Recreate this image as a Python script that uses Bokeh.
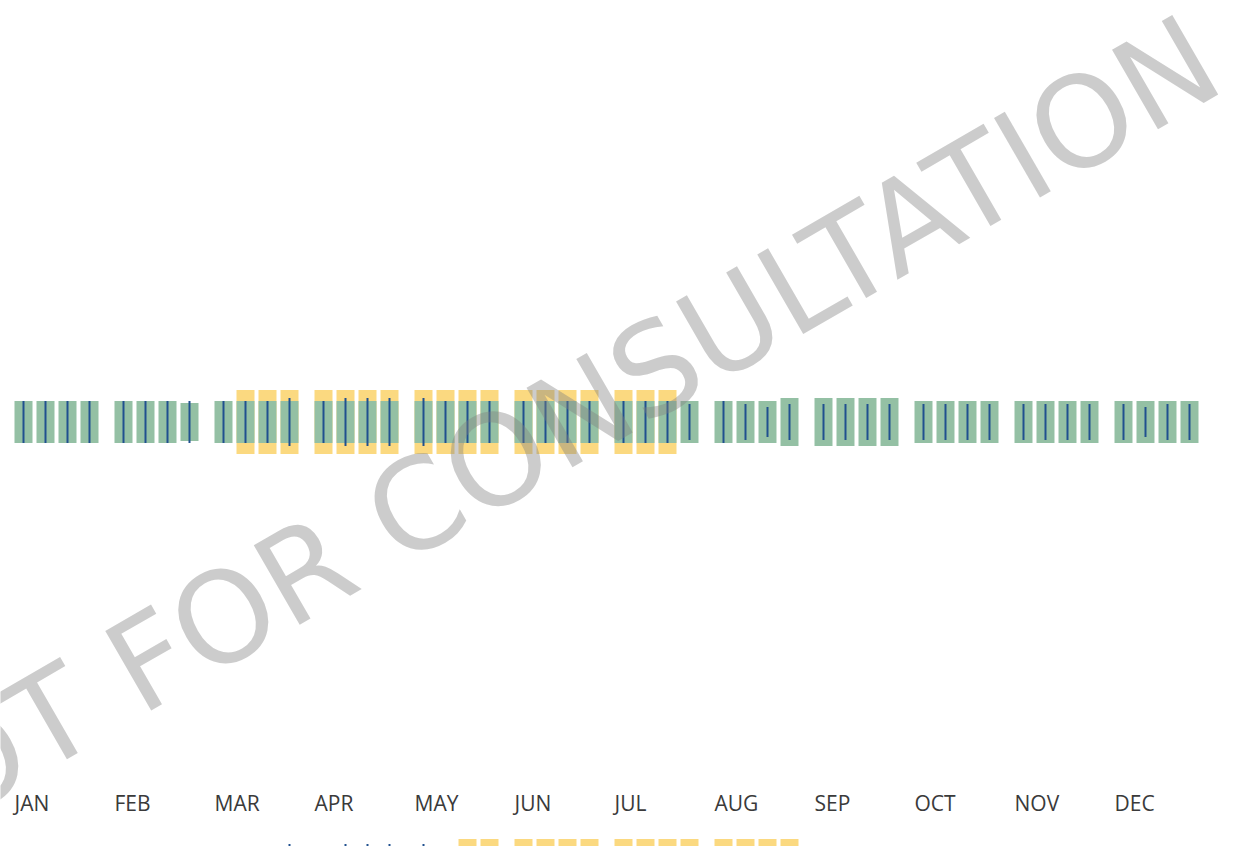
import math
from bokeh.plotting import figure
from bokeh.models import Range1d, Label
from bokeh.core.properties import value
from bokeh.embed import file_html
from bokeh.resources import INLINE

months = ["JAN", "FEB", "MAR", "APR", "MAY", "JUN", "JUL", "AUG", "SEP", "OCT", "NOV", "DEC"]
weeks = ["1", "2", "3", "4"]

# Row 1: weekly heights
green_1 = [42, 42, 42, 42,  42, 42, 42, 38,  42, 42, 42, 42,  42, 42, 42, 42,
           42, 42, 42, 42,  42, 42, 42, 42,  42, 42, 42, 42,  42, 42, 42, 48,
           48, 48, 48, 48,  42, 42, 42, 42,  42, 42, 42, 42,  42, 42, 42, 42]
yellow_1 = [0, 0, 0, 0,  0, 0, 0, 0,  0, 64, 64, 64,  64, 64, 64, 64,
            64, 64, 64, 64,  64, 64, 64, 64,  64, 64, 64, 0,  0, 0, 0, 0,
            0, 0, 0, 0,  0, 0, 0, 0,  0, 0, 0, 0,  0, 0, 0, 0]
blue_1 = [42, 42, 42, 42,  42, 42, 42, 42,  42, 42, 42, 48,  42, 48, 48, 48,
          48, 42, 42, 42,  42, 42, 42, 42,  42, 42, 42, 36,  42, 36, 30, 36,
          36, 36, 36, 36,  36, 36, 36, 36,  36, 36, 36, 36,  36, 30, 36, 36]

# Row 2 (only its top edge is visible)
yellow_2 = [0, 0, 0, 0,  0, 0, 0, 0,  0, 0, 0, 0,  0, 0, 0, 0,
            0, 0, 64, 64,  64, 64, 64, 64,  64, 64, 64, 64,  64, 64, 64, 64,
            0, 0, 0, 0,  0, 0, 0, 0,  0, 0, 0, 0,  0, 0, 0, 0]
blue_2 = [0, 0, 0, 0,  0, 0, 0, 0,  0, 0, 0, 54,  0, 54, 54, 54,
          54, 0, 0, 0,  0, 0, 0, 0,  0, 0, 0, 0,  0, 0, 0, 0,
          0, 0, 0, 0,  0, 0, 0, 0,  0, 0, 0, 0,  0, 0, 0, 0]

GREEN = "#94c0a4"
YELLOW = "#fbd980"
BLUE = "#20508f"

# week slot coordinate: one unit per week, a gap after each month
MONTH_STEP = 4 + 12 / 22
slots = [mi * MONTH_STEP + wi for mi in range(len(months)) for wi in range(len(weeks))]
month_starts = [mi * MONTH_STEP for mi in range(len(months))]

W, H = 1233, 846
p = figure(width=W, height=H,
           x_range=Range1d(-23 / 22, (W - 23) / 22),
           y_range=Range1d(-424.5, 421.5),
           x_axis_location=None, y_axis_location=None,
           output_backend="svg", toolbar_location=None,
           min_border_left=0, min_border_right=0, min_border_top=0, min_border_bottom=0)
p.outline_line_color = None
p.grid.visible = False
p.background_fill_color = "white"

BW = 18 / 22


def draw_row(center, yellow, green, blue):
    ys = [(s, h) for s, h in zip(slots, yellow) if h > 0]
    if ys:
        p.vbar(x=[s for s, _ in ys], top=[center + h / 2 for _, h in ys],
               bottom=[center - h / 2 for _, h in ys], width=BW,
               fill_color=YELLOW, line_color=None)
    if green is not None:
        gs = [(s, h) for s, h in zip(slots, green) if h > 0]
        p.vbar(x=[s for s, _ in gs], top=[center + h / 2 for _, h in gs],
               bottom=[center - h / 2 for _, h in gs], width=BW,
               fill_color=GREEN, line_color=None)
    bs = [(s, h) for s, h in zip(slots, blue) if h > 0]
    if bs:
        p.segment(x0=[s for s, _ in bs], x1=[s for s, _ in bs],
                  y0=[center - h / 2 for _, h in bs], y1=[center + h / 2 for _, h in bs],
                  line_color=BLUE, line_width=2, line_cap="butt")


draw_row(0, yellow_1, green_1, blue_1)
draw_row(-449, yellow_2, None, blue_2)

p.text(x=[s - BW / 2 for s in month_starts], y=[-381] * len(months), text=months,
       text_align="left", text_baseline="alphabetic",
       text_font=value("Open Sans"), text_font_size="21px", text_color="#3a3a3a")

wm = Label(x=528, y=404, x_units="screen", y_units="screen",
           text="NOT FOR CONSULTATION", angle=math.radians(30),
           text_align="center", text_baseline="alphabetic",
           text_font="DejaVu Sans", text_font_size="126px",
           text_color="#808080", text_alpha=0.4)
p.add_layout(wm)

open("out.html", "w").write(file_html(p, INLINE))
